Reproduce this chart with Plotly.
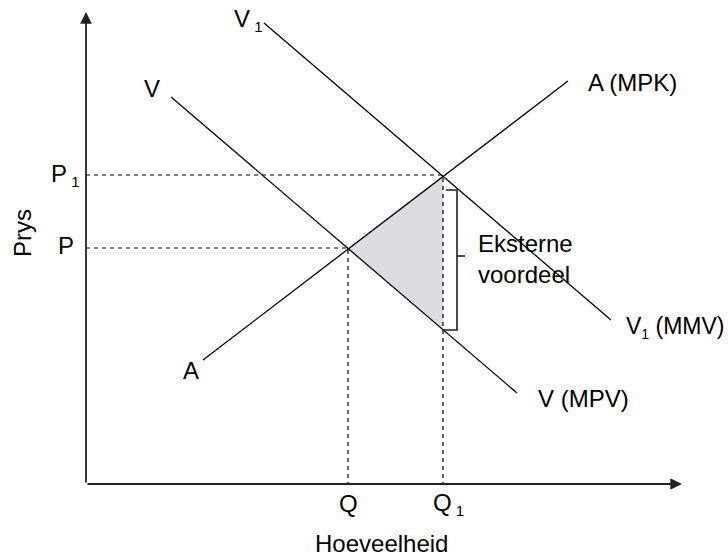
import plotly.graph_objects as go

# coordinates in chart units (origin at the axes corner)
x_max, y_max = 596, 472

# curves: start and end points
v_x = [85, 431]
v_y = [387, 91]
v1_x = [178, 525]
v1_y = [461, 164]
a_x = [117, 482]
a_y = [124, 403]

# equilibria
q, p = 262, 236
q1, p1 = 357, 309
v_at_q1 = 155

# external benefit triangle
tri_x = [q, q1, q1, q]
tri_y = [p, p1, v_at_q1, p]

# bracket
br_x = [360, 371, 371, 357]
br_y = [294, 294, 154, 154]
br_tick_x = [371, 379]
br_tick_y = [228, 228]

FONT = "Liberation Sans, Arial, sans-serif"
SUB = "<sub><span style='font-size:15px'> 1</span></sub>"
SUB_TIGHT = "<sub><span style='font-size:14px'>1</span></sub>"

fig = go.Figure()

fig.add_trace(go.Scatter(x=tri_x, y=tri_y, fill="toself", fillcolor="#dcdde0",
                         line=dict(width=0), mode="lines", hoverinfo="skip"))

# dashed guides
dash = dict(color="black", width=1.2, dash="4px,4px")
fig.add_trace(go.Scatter(x=[0, q, q], y=[p, p, 0], mode="lines", line=dash))
fig.add_trace(go.Scatter(x=[0, q1, q1], y=[p1, p1, 0], mode="lines", line=dash))

# curves
solid = dict(color="black", width=1.3)
for xs, ys in [(v_x, v_y), (v1_x, v1_y), (a_x, a_y)]:
    fig.add_trace(go.Scatter(x=xs, y=ys, mode="lines", line=solid))

# bracket
brk = dict(color="#222", width=1.6)
fig.add_trace(go.Scatter(x=br_x, y=br_y, mode="lines", line=brk))
fig.add_trace(go.Scatter(x=br_tick_x, y=br_tick_y, mode="lines", line=brk))

# axes with arrows
fig.add_annotation(x=x_max, y=0, ax=0, ay=0, xref="x", yref="y", axref="x", ayref="y",
                   showarrow=True, arrowhead=2, arrowsize=1.3, arrowwidth=1.8,
                   arrowcolor="#222", text="")
fig.add_annotation(x=0, y=y_max, ax=0, ay=0, xref="x", yref="y", axref="x", ayref="y",
                   showarrow=True, arrowhead=2, arrowsize=1.3, arrowwidth=1.8,
                   arrowcolor="#222", text="")

labels = [
    ("V" + SUB, 162, 464, "center", 24),
    ("V", 66, 396, "center", 24),
    ("P" + SUB, -4, 309, "right", 24),
    ("P", -10, 239, "right", 24),
    ("A", 105, 114, "center", 24),
    ("Q", q, -19, "center", 24),
    ("Q" + SUB, q1 + 5, -20, "center", 24),
    ("A (MPK)", 500, 402, "left", 24),
    ("V" + SUB_TIGHT + " (MMV)", 538, 157, "left", 23),
    ("V (MPV)", 450, 86, "left", 24),
    ("Eksterne<br>voordeel", 390, 225, "left", 24),
    ("Hoeveelheid", 295, -59, "center", 24),
]
for text, x, y, anchor, size in labels:
    fig.add_annotation(x=x, y=y, text=text, showarrow=False, xanchor=anchor,
                       yanchor="middle", align="left",
                       font=dict(size=size, color="black", family=FONT))

fig.add_annotation(x=-64, y=251, text="Prys", showarrow=False, textangle=-90,
                   font=dict(size=24, color="black", family=FONT))

fig.update_layout(
    width=728, height=556,
    margin=dict(l=0, r=0, t=0, b=0),
    plot_bgcolor="white", paper_bgcolor="white",
    showlegend=False,
    xaxis=dict(range=[-86, 642], visible=False, fixedrange=True),
    yaxis=dict(range=[-72, 484], visible=False, fixedrange=True),
)

fig.write_html("out.html", config={"displayModeBar": False},
               post_script="document.body.style.margin='0';")
